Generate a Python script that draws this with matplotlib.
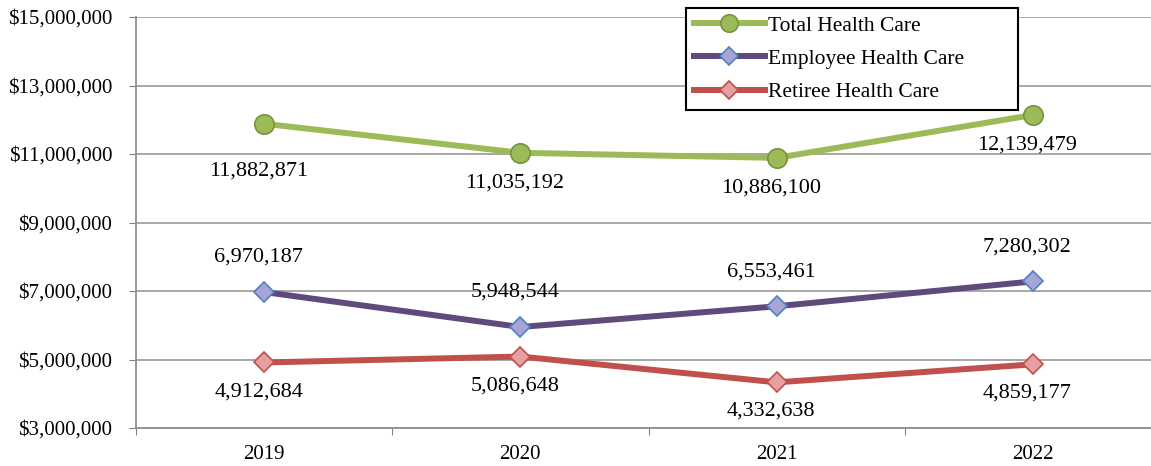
import matplotlib.pyplot as plt
from matplotlib.ticker import FuncFormatter

plt.rcParams['font.family'] = ['Liberation Serif', 'DejaVu Serif']

# data
years = ['2019', '2020', '2021', '2022']
total = [11882871, 11035192, 10886100, 12139479]
employee = [6970187, 5948544, 6553461, 7280302]
retiree = [4912684, 5086648, 4332638, 4859177]
y_ticks = [3000000, 5000000, 7000000, 9000000, 11000000, 13000000, 15000000]

W, H = 1151, 466
fig = plt.figure(figsize=(W / 100, H / 100), dpi=100)
# axes spans four category slots; the last one runs off the right edge
ax = fig.add_axes([136 / W, 38 / H, 1025 / W, 411 / H])

x = list(range(len(years)))

ax.plot(x, total, color='#9BBB59', lw=4.3, marker='o', ms=14,
        mfc='#9BBB59', mec='#77933C', mew=1.2, label='Total Health Care', zorder=4)
ax.plot(x, employee, color='#604A7B', lw=4.3, marker='D', ms=10,
        mfc='#A9A4D6', mec='#4F81BD', mew=1.2, label='Employee Health Care', zorder=4)
ax.plot(x, retiree, color='#C0504D', lw=4.3, marker='D', ms=10,
        mfc='#E6A0A0', mec='#C0504D', mew=1.2, label='Retiree Health Care', zorder=4)

# data labels
fs = 16
for i, v in enumerate(total):
    dy = -34 if i == 0 else -22
    ax.annotate(f'{v:,}', (i, v), xytext=(-4, dy), textcoords='offset points',
                ha='center', va='center', fontsize=fs)
for i, v in enumerate(employee):
    ax.annotate(f'{v:,}', (i, v), xytext=(-4, 25), textcoords='offset points',
                ha='center', va='center', fontsize=fs)
for i, v in enumerate(retiree):
    ax.annotate(f'{v:,}', (i, v), xytext=(-4, -21), textcoords='offset points',
                ha='center', va='center', fontsize=fs)

ax.set_xlim(-0.5, 3.5)
ax.set_ylim(3000000, 15000000)
ax.set_yticks(y_ticks)
ax.yaxis.set_major_formatter(FuncFormatter(lambda v, p: f'${v:,.0f}'))
ax.tick_params(axis='y', labelsize=15, length=5, color='#808080', pad=12)

# tick marks between categories, labels at centres
ax.set_xticks([i - 0.5 for i in x])
ax.set_xticklabels([])
ax.set_xticks(x, minor=True)
ax.set_xticklabels(years, minor=True)
ax.tick_params(axis='x', which='major', length=5, color='#808080', direction='out')
ax.tick_params(axis='x', which='minor', length=0, labelsize=15, pad=12)

ax.grid(axis='y', color='#A0A0A0', lw=1.3)
ax.set_axisbelow(True)
for s in ['top', 'right']:
    ax.spines[s].set_visible(False)
for s in ['left', 'bottom']:
    ax.spines[s].set_color('#909090')
    ax.spines[s].set_linewidth(1.3)

leg = fig.legend(loc='upper left',
                 bbox_to_anchor=(686 / W, 1 - 108 / H, 332 / W, 100 / H),
                 mode='expand', fontsize=15.5, frameon=True, fancybox=False,
                 handlelength=3.3, borderpad=0.35, labelspacing=0.62,
                 handletextpad=0.15, borderaxespad=0, markerscale=0.9)
leg.get_frame().set_edgecolor('black')
leg.get_frame().set_linewidth(1.5)
leg.get_frame().set_alpha(1)

fig.savefig('out.png', dpi=100)
